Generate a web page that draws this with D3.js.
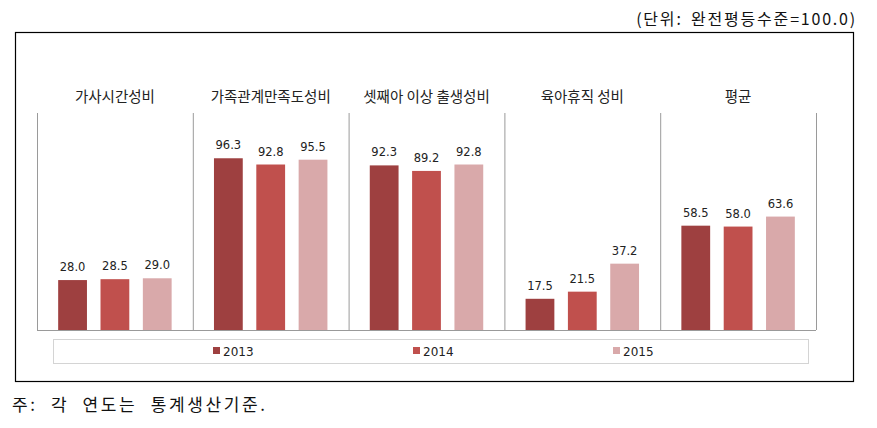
<!DOCTYPE html>
<html><head><meta charset="utf-8">
<script src="https://cdn.jsdelivr.net/npm/d3@7"></script>
<style>body{margin:0;background:#fff}svg{display:block}</style>
</head><body>
<script>
const categories = ["가사시간성비","가족관계만족도성비","셋째아 이상 출생성비","육아휴직 성비","평균"];
const years = ["2013","2014","2015"];
const v2013 = [28.0, 96.3, 92.3, 17.5, 58.5];
const v2014 = [28.5, 92.8, 89.2, 21.5, 58.0];
const v2015 = [29.0, 95.5, 92.8, 37.2, 63.6];
const colors = ["#9e4040","#c0504d","#d9a9aa"];
const unitText = "(단위: 완전평등수준=100.0)";
const noteText = "주: 각 연도는 통계생산기준.";

const W = 877, H = 428;
const svg = d3.select("body").append("svg").attr("width", W).attr("height", H);
const series = [v2013, v2014, v2015];

// frame
svg.append("rect").attr("x",15.5).attr("y",32.5).attr("width",838).attr("height",349)
  .attr("fill","none").attr("stroke","#000").attr("stroke-width",1.2);

svg.append("text").attr("x",857).attr("y",25).attr("text-anchor","end")
  .attr("font-family","'Noto Sans CJK KR'").attr("font-size",16).attr("fill","#111")
  .attr("letter-spacing",1.8).attr("word-spacing",3)
  .text(unitText);

svg.append("text").attr("x",12).attr("y",411)
  .attr("font-family","'Noto Sans CJK KR'").attr("font-size",17).attr("fill","#111")
  .attr("letter-spacing",2.6).attr("word-spacing",7)
  .text(noteText);

const x0 = d3.scaleBand().domain(categories).range([37,816]).padding(0);
const x1 = d3.scaleBand().domain(years).range([0, x0.bandwidth()]).paddingInner(0.32).paddingOuter(0.5);
const y = d3.scaleLinear().domain([0,120]).range([330,116]);

// category separators
const seps = categories.map((c,i)=>x0(c)).concat([816]);
svg.selectAll("line.sep").data(seps).enter().append("line")
  .attr("x1",d=>d+0.5).attr("x2",d=>d+0.5).attr("y1",113).attr("y2",330)
  .attr("stroke","#9a9a9a").attr("stroke-width",1);
// baseline
svg.append("line").attr("x1",37).attr("x2",816).attr("y1",330.5).attr("y2",330.5)
  .attr("stroke","#9a9a9a").attr("stroke-width",1);

// category labels
svg.selectAll("text.cat").data(categories).enter().append("text")
  .attr("x",d=>x0(d)+x0.bandwidth()/2).attr("y",102).attr("text-anchor","middle")
  .attr("font-family","'Noto Sans CJK KR'").attr("font-size",14.5).attr("fill","#222")
  .text(d=>d);

// bars
series.forEach((vals,si)=>{
  const g = svg.append("g");
  g.selectAll("rect").data(vals).enter().append("rect")
    .attr("x",(d,i)=>x0(categories[i])+x1(years[si]))
    .attr("y",d=>y(d)).attr("width",x1.bandwidth()).attr("height",d=>330-y(d))
    .attr("fill",colors[si]);
  g.selectAll("text").data(vals).enter().append("text")
    .attr("x",(d,i)=>x0(categories[i])+x1(years[si])+x1.bandwidth()/2)
    .attr("y",d=>y(d)-9).attr("text-anchor","middle")
    .attr("font-family","'DejaVu Sans'").attr("font-size",11.5).attr("fill","#222")
    .text(d=>d.toFixed(1));
});

// legend
svg.append("rect").attr("x",53.5).attr("y",339.5).attr("width",755).attr("height",24)
  .attr("fill","#fff").attr("stroke","#d4d4d4");
const legX = [213, 413, 613];
years.forEach((yr,i)=>{
  svg.append("rect").attr("x",legX[i]).attr("y",347).attr("width",7).attr("height",7).attr("fill",colors[i]);
  svg.append("text").attr("x",legX[i]+10).attr("y",355.5)
    .attr("font-family","'DejaVu Sans'").attr("font-size",12).attr("fill","#222").text(yr);
});
</script>
</body></html>
